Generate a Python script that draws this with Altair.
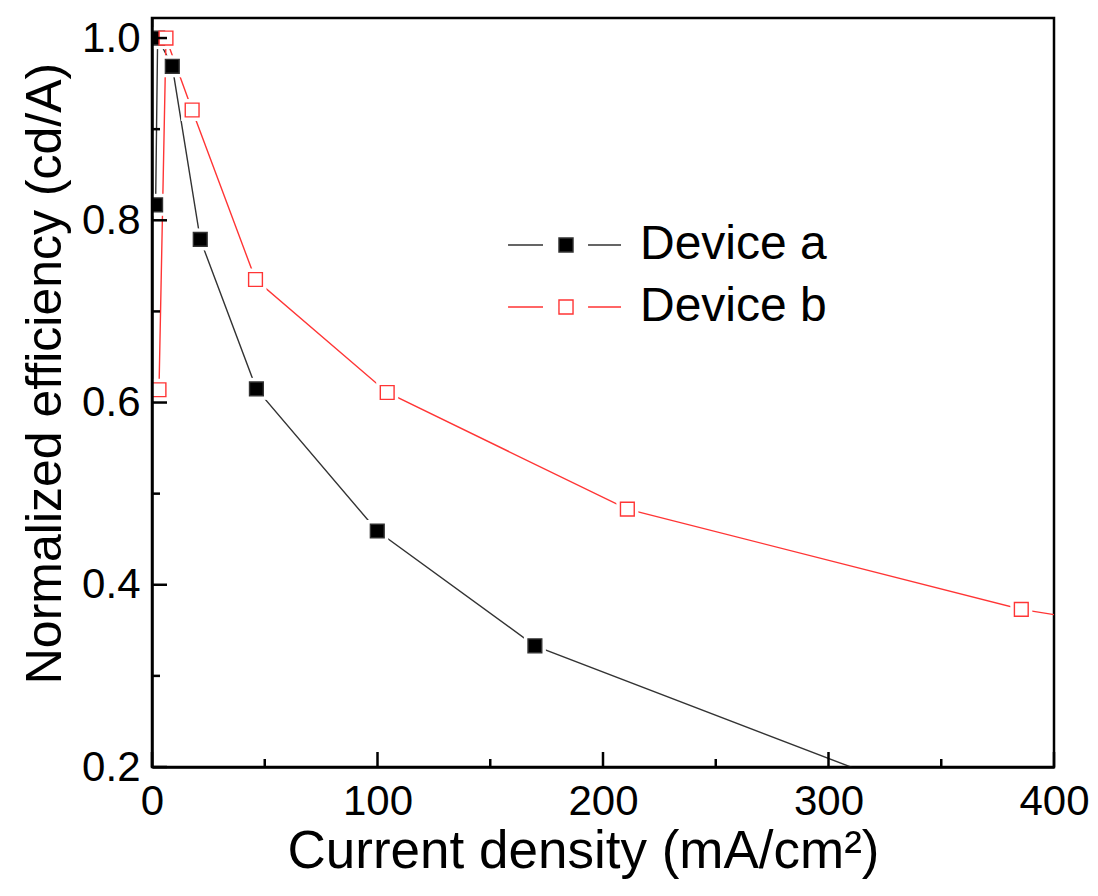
import altair as alt
import pandas as pd

# Data
a_x = [1.6, 2.5, 9.0, 21.4, 46.3, 99.9, 169.8, 390.0]
a_y = [0.817, 1.0, 0.969, 0.779, 0.615, 0.459, 0.333, 0.124]
b_x = [3.1, 6.2, 17.8, 45.9, 104.3, 210.8, 385.5, 560.0]
b_y = [0.614, 1.0, 0.921, 0.735, 0.611, 0.483, 0.373, 0.303]
series_names = ["Device a", "Device b"]

x_major = [0, 100, 200, 300, 400]
x_minor = [50, 150, 250, 350]
y_major = [0.2, 0.4, 0.6, 0.8, 1.0]
y_minor = [0.3, 0.5, 0.7, 0.9]

W, H = 902, 749
FONT = "Liberation Sans, Arial"

rows = []
for i, (x, y) in enumerate(zip(a_x, a_y)):
    rows.append({"series": series_names[0], "idx": i, "x": x, "y": y})
for i, (x, y) in enumerate(zip(b_x, b_y)):
    rows.append({"series": series_names[1], "idx": i, "x": x, "y": y})
df = pd.DataFrame(rows)
vis = df[(df.x <= 400) & (df.y >= 0.2)]

xs = alt.Scale(domain=[0, 400], nice=False, zero=False)
ys = alt.Scale(domain=[0.2, 1.022], nice=False, zero=False)
stroke_scale = alt.Scale(domain=series_names, range=["#333333", "#ff3535"])
fill_scale = alt.Scale(domain=series_names, range=["#000000", "#ffffff"])

PATH = "M-6.1,0H-2.42M-0.74,-0.74H0.74V0.74H-0.74ZM2.32,0H5.79"
legend = alt.Legend(
    title=None, orient="none", legendX=390, legendY=203,
    symbolType=PATH, symbolSize=361, symbolStrokeWidth=1.4,
    labelFontSize=48, labelFont=FONT, labelColor="black", labelLimit=500,
    labelOffset=50, rowPadding=14, labelBaseline="middle",
)

x_axis = alt.Axis(
    title="Current density (mA/cm²)", values=x_major, format="d",
    ticks=False, grid=False, labelPadding=14, labelFontSize=42, labelFont=FONT,
    labelFlush=False,
    titleFontSize=53, titleFont=FONT, titleFontWeight="normal",
    titleX=431, titleY=84, titleBaseline="middle",
    domainColor="black", domainWidth=2.5, labelColor="black", titleColor="black", zindex=1,
)
y_axis = alt.Axis(
    title="Normalized efficiency (cd/A)", values=y_major, format=".1f",
    ticks=False, grid=False, labelPadding=12, labelFontSize=42, labelFont=FONT,
    labelFlush=False,
    titleFontSize=50, titleFont=FONT, titleFontWeight="normal",
    titleX=-107, titleY=355, titleBaseline="middle", titleAlign="center",
    domainColor="black", domainWidth=2.5, labelColor="black", titleColor="black", zindex=1,
)

lines = alt.Chart(df).mark_line(strokeWidth=1.4, clip=True).encode(
    x=alt.X("x:Q", scale=xs, axis=x_axis),
    y=alt.Y("y:Q", scale=ys, axis=y_axis),
    stroke=alt.Stroke("series:N", scale=stroke_scale, legend=legend),
    order="idx:Q",
)

halo = alt.Chart(vis).mark_square(size=484, color="white", opacity=1, clip=True).encode(
    x=alt.X("x:Q", scale=xs),
    y=alt.Y("y:Q", scale=ys),
)

points = alt.Chart(vis).mark_square(size=190, opacity=1, strokeWidth=1.4, clip=True).encode(
    x=alt.X("x:Q", scale=xs),
    y=alt.Y("y:Q", scale=ys),
    fill=alt.Fill("series:N", scale=fill_scale, legend=legend),
    stroke=alt.Stroke("series:N", scale=stroke_scale, legend=legend),
)

xticks_major = alt.Chart(pd.DataFrame({"v": x_major})).mark_rule(color="black", strokeWidth=2.5).encode(
    x=alt.X("v:Q", scale=xs), y=alt.value(H), y2=alt.value(H - 15))
xticks_minor = alt.Chart(pd.DataFrame({"v": x_minor})).mark_rule(color="black", strokeWidth=2.5).encode(
    x=alt.X("v:Q", scale=xs), y=alt.value(H), y2=alt.value(H - 8))
yticks_major = alt.Chart(pd.DataFrame({"v": y_major})).mark_rule(color="black", strokeWidth=2.5).encode(
    y=alt.Y("v:Q", scale=ys), x=alt.value(0), x2=alt.value(15))
yticks_minor = alt.Chart(pd.DataFrame({"v": y_minor})).mark_rule(color="black", strokeWidth=2.5).encode(
    y=alt.Y("v:Q", scale=ys), x=alt.value(0), x2=alt.value(8))

chart = alt.layer(
    lines, halo, points, xticks_major, xticks_minor, yticks_major, yticks_minor
).properties(
    width=W, height=H,
    autosize=alt.AutoSizeParams(type="none"),
    padding={"left": 144, "top": 10, "right": 36, "bottom": 116},
    background="white",
).configure_view(stroke="black", strokeWidth=2.5)

chart.save("out.html", embed_options={"renderer": "svg", "actions": False})
